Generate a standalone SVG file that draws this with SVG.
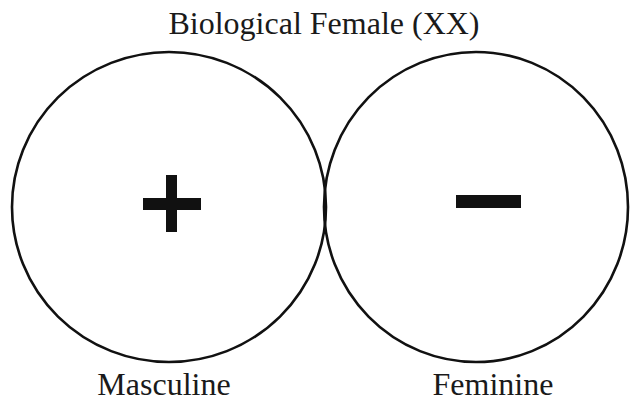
<svg xmlns="http://www.w3.org/2000/svg" width="631" height="406" viewBox="0 0 631 406">
<style>
.lbl{font-family:"Liberation Serif","DejaVu Serif",serif;font-size:32px;fill:#1a1a1a;text-anchor:middle}
.ring{fill:none;stroke:#111;stroke-width:2.6}
.sym{fill:#111}
</style>
<rect width="631" height="406" fill="#fff"/>
<text class="lbl" x="324" y="34">Biological Female (XX)</text>
<g id="masculine">
<ellipse class="ring" cx="169" cy="207" rx="157" ry="155"/>
<rect class="sym" x="143" y="198" width="58" height="12"/>
<rect class="sym" x="166" y="175" width="11" height="57"/>
<text class="lbl" x="164" y="395">Masculine</text>
</g>
<g id="feminine">
<ellipse class="ring" cx="476" cy="207" rx="152" ry="155"/>
<rect class="sym" x="456" y="195" width="65" height="13"/>
<text class="lbl" x="493" y="395">Feminine</text>
</g>
<g id="connectors"/>
</svg>
